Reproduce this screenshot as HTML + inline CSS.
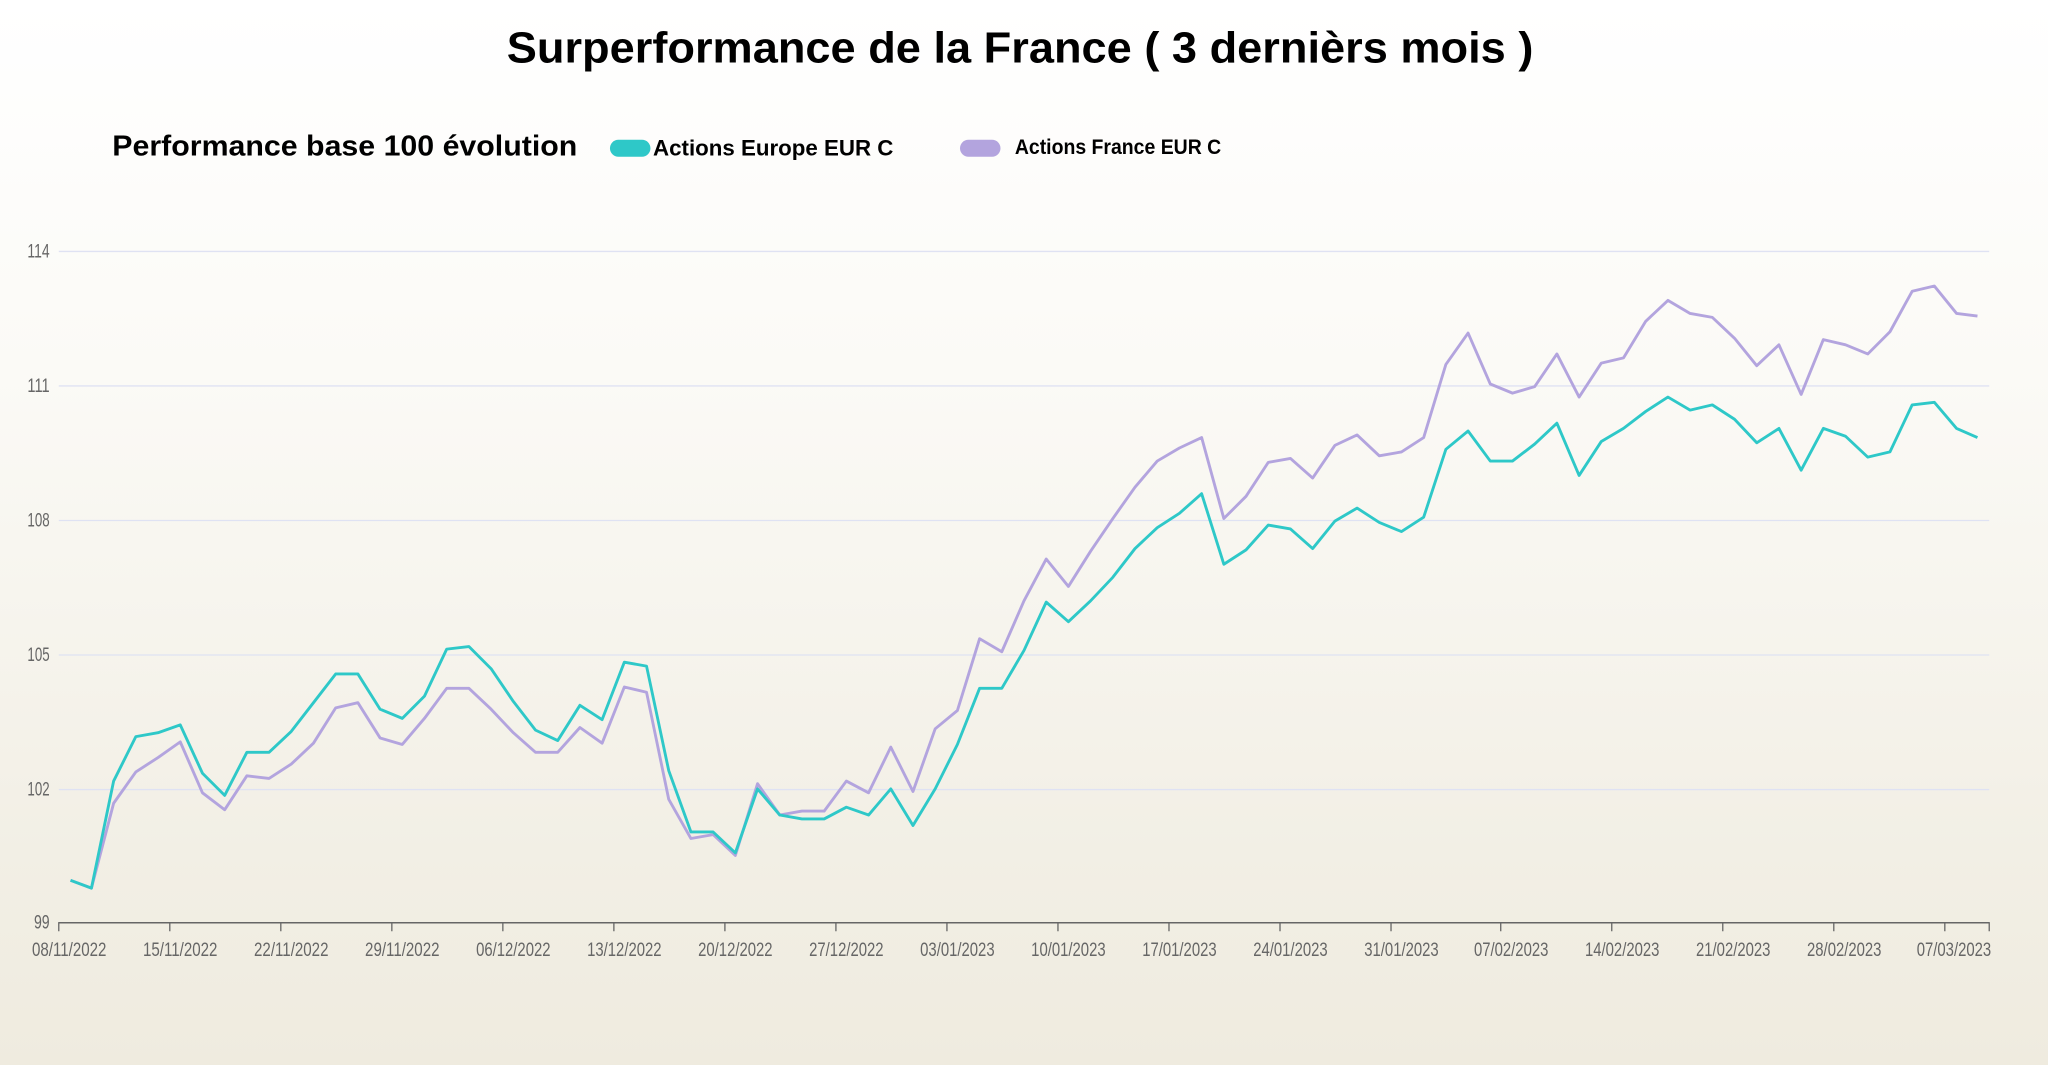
<!DOCTYPE html>
<html><head><meta charset="utf-8"><style>
html,body{margin:0;padding:0;width:2048px;height:1065px;overflow:hidden}
body{background:linear-gradient(#ffffff 0%,#fbfaf6 35%,#f2efe5 80%,#efebdf 100%)}
svg{display:block}
</style></head><body>
<svg width="2048" height="1065" viewBox="0 0 1568 815.4" preserveAspectRatio="none" xmlns="http://www.w3.org/2000/svg">
<text x="388" y="48" font-family="Liberation Sans, sans-serif" font-weight="bold" font-size="33" textLength="786" lengthAdjust="spacingAndGlyphs" fill="#000">Surperformance de la France ( 3 dernièrs mois )</text>
<text x="86" y="119" font-family="Liberation Sans, sans-serif" font-weight="bold" font-size="22" textLength="356" lengthAdjust="spacingAndGlyphs" fill="#000">Performance base 100 évolution</text>
<rect x="467" y="107" width="31" height="13" rx="6.5" fill="#2ec8c8"/>
<text x="500" y="119" font-family="Liberation Sans, sans-serif" font-weight="bold" font-size="17" textLength="184" lengthAdjust="spacingAndGlyphs" fill="#000">Actions Europe EUR C</text>
<rect x="735" y="107" width="31" height="13" rx="6.5" fill="#b3a4de"/>
<text x="777" y="118" font-family="Liberation Sans, sans-serif" font-weight="bold" font-size="16" textLength="158" lengthAdjust="spacingAndGlyphs" fill="#000">Actions France EUR C</text>
<g stroke="#dfe2f3" stroke-width="1">
<line x1="45" y1="192.5" x2="1523" y2="192.5"/>
<line x1="45" y1="295.5" x2="1523" y2="295.5"/>
<line x1="45" y1="398.5" x2="1523" y2="398.5"/>
<line x1="45" y1="501.5" x2="1523" y2="501.5"/>
<line x1="45" y1="604.5" x2="1523" y2="604.5"/>
</g>
<g font-family="Liberation Sans Narrow, Liberation Sans, sans-serif" font-size="15" fill="#666" lengthAdjust="spacingAndGlyphs">
<text x="21" y="197" textLength="17" lengthAdjust="spacingAndGlyphs">114</text><text x="21" y="300" textLength="17" lengthAdjust="spacingAndGlyphs">111</text><text x="21" y="403" textLength="17" lengthAdjust="spacingAndGlyphs">108</text><text x="21" y="506" textLength="17" lengthAdjust="spacingAndGlyphs">105</text><text x="21" y="609" textLength="17" lengthAdjust="spacingAndGlyphs">102</text><text x="26" y="711" textLength="12" lengthAdjust="spacingAndGlyphs">99</text>
</g>
<line x1="45" y1="706.5" x2="1523" y2="706.5" stroke="#666" stroke-width="1.2"/>
<g stroke="#666" stroke-width="1">
<line x1="45" y1="706" x2="45" y2="713"/><line x1="130" y1="706" x2="130" y2="713"/><line x1="215" y1="706" x2="215" y2="713"/><line x1="300" y1="706" x2="300" y2="713"/><line x1="385" y1="706" x2="385" y2="713"/><line x1="470" y1="706" x2="470" y2="713"/><line x1="555" y1="706" x2="555" y2="713"/><line x1="640" y1="706" x2="640" y2="713"/><line x1="725" y1="706" x2="725" y2="713"/><line x1="810" y1="706" x2="810" y2="713"/><line x1="895" y1="706" x2="895" y2="713"/><line x1="980" y1="706" x2="980" y2="713"/><line x1="1065" y1="706" x2="1065" y2="713"/><line x1="1149" y1="706" x2="1149" y2="713"/><line x1="1234" y1="706" x2="1234" y2="713"/><line x1="1319" y1="706" x2="1319" y2="713"/><line x1="1404" y1="706" x2="1404" y2="713"/><line x1="1489" y1="706" x2="1489" y2="713"/><line x1="1523" y1="706" x2="1523" y2="713"/>
</g>
<g font-family="Liberation Sans Narrow, Liberation Sans, sans-serif" font-size="15" fill="#666" text-anchor="middle">
<text x="53" y="732" textLength="57" lengthAdjust="spacingAndGlyphs">08/11/2022</text><text x="138" y="732" textLength="57" lengthAdjust="spacingAndGlyphs">15/11/2022</text><text x="223" y="732" textLength="57" lengthAdjust="spacingAndGlyphs">22/11/2022</text><text x="308" y="732" textLength="57" lengthAdjust="spacingAndGlyphs">29/11/2022</text><text x="393" y="732" textLength="57" lengthAdjust="spacingAndGlyphs">06/12/2022</text><text x="478" y="732" textLength="57" lengthAdjust="spacingAndGlyphs">13/12/2022</text><text x="563" y="732" textLength="57" lengthAdjust="spacingAndGlyphs">20/12/2022</text><text x="648" y="732" textLength="57" lengthAdjust="spacingAndGlyphs">27/12/2022</text><text x="733" y="732" textLength="57" lengthAdjust="spacingAndGlyphs">03/01/2023</text><text x="818" y="732" textLength="57" lengthAdjust="spacingAndGlyphs">10/01/2023</text><text x="903" y="732" textLength="57" lengthAdjust="spacingAndGlyphs">17/01/2023</text><text x="988" y="732" textLength="57" lengthAdjust="spacingAndGlyphs">24/01/2023</text><text x="1073" y="732" textLength="57" lengthAdjust="spacingAndGlyphs">31/01/2023</text><text x="1157" y="732" textLength="57" lengthAdjust="spacingAndGlyphs">07/02/2023</text><text x="1242" y="732" textLength="57" lengthAdjust="spacingAndGlyphs">14/02/2023</text><text x="1327" y="732" textLength="57" lengthAdjust="spacingAndGlyphs">21/02/2023</text><text x="1412" y="732" textLength="57" lengthAdjust="spacingAndGlyphs">28/02/2023</text><text x="1496" y="732" textLength="57" lengthAdjust="spacingAndGlyphs">07/03/2023</text>
</g>
<polyline fill="none" stroke="#b3a4de" stroke-width="2.2" stroke-linejoin="round" points="54,674 70,680 87,615 104,591 121,580 138,568 155,607 172,620 189,594 206,596 223,585 240,569 257,542 274,538 291,565 308,570 325,550 342,527 359,527 376,543 393,561 410,576 427,576 444,557 461,569 478,526 495,530 512,612 529,642 546,639 563,655 580,600 597,624 614,621 631,621 648,598 665,607 682,572 699,606 716,558 733,544 750,489 767,499 784,460 801,428 818,449 835,422 852,397 869,373 886,353 903,343 920,335 937,397 954,380 971,354 988,351 1005,366 1022,341 1039,333 1056,349 1073,346 1090,335 1107,279 1124,255 1141,294 1158,301 1175,296 1192,271 1209,304 1226,278 1243,274 1260,246 1277,230 1294,240 1311,243 1328,259 1345,280 1362,264 1379,302 1396,260 1413,264 1430,271 1447,254 1464,223 1481,219 1498,240 1514,242"/>
<polyline fill="none" stroke="#2ec8c8" stroke-width="2.2" stroke-linejoin="round" points="54,674 70,680 87,598 104,564 121,561 138,555 155,592 172,609 189,576 206,576 223,560 240,538 257,516 274,516 291,543 308,550 325,533 342,497 359,495 376,512 393,537 410,559 427,567 444,540 461,551 478,507 495,510 512,590 529,637 546,637 563,653 580,604 597,624 614,627 631,627 648,618 665,624 682,604 699,632 716,604 733,570 750,527 767,527 784,498 801,461 818,476 835,460 852,442 869,420 886,404 903,393 920,378 937,432 954,421 971,402 988,405 1005,420 1022,399 1039,389 1056,400 1073,407 1090,396 1107,344 1124,330 1141,353 1158,353 1175,340 1192,324 1209,364 1226,338 1243,328 1260,315 1277,304 1294,314 1311,310 1328,321 1345,339 1362,328 1379,360 1396,328 1413,334 1430,350 1447,346 1464,310 1481,308 1498,328 1514,335"/>
</svg>
</body></html>
